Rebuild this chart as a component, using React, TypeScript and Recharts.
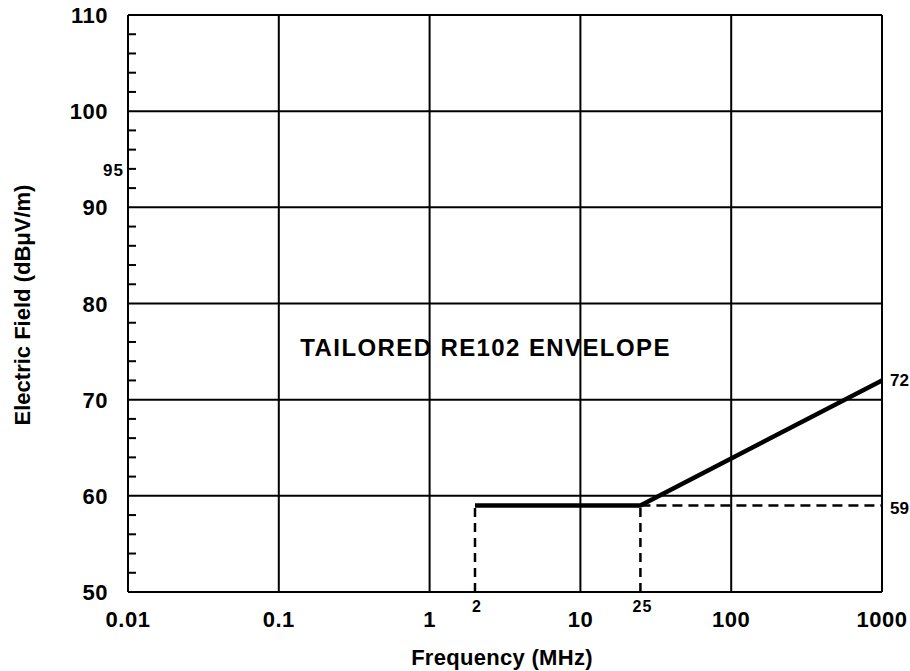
import React from 'react';
import { LineChart, Line, XAxis, YAxis, ReferenceLine, ReferenceDot } from 'recharts';

const FONT = '"Liberation Sans", Arial, Helvetica, sans-serif';

// axes
const freqDomain = [0.01, 1000];
const freqTicks = [0.01, 0.1, 1, 10, 100, 1000];
const breakFreqs = [2, 25];
const levelDomain = [50, 110];
const levelTicks = [50, 60, 70, 80, 90, 95, 100, 110];
const minorLevelTicks = [52, 54, 56, 58, 62, 64, 66, 68, 72, 74, 76, 78, 82, 84, 86, 88, 92, 94, 96, 98, 102, 104, 106, 108];
const gridFreqs = [0.1, 1, 10, 100, 1000];
const gridLevels = [60, 70, 80, 90, 100, 110];

// RE102 envelope
const envelopeFreq = [2, 25, 1000];
const envelopeLevel = [59, 59, 72];
const floorLevel = 59;
const endLabels = [72, 59];

const envelope = envelopeFreq.map((f, i) => ({ f, v: envelopeLevel[i] }));
const drops = breakFreqs.map((f) => [{ f, v: levelDomain[0] }, { f, v: floorLevel }]);
const floorExtension = [{ f: breakFreqs[1], v: floorLevel }, { f: freqDomain[1], v: floorLevel }];

const FreqTick = ({ x, y, payload }: any) => {
  const small = breakFreqs.includes(payload.value);
  return (
    <text x={x + (small ? 2 : 0)} y={y + (small ? 20 : 35)} textAnchor="middle" fontSize={small ? 16 : 22}
      fontWeight={700} fontFamily={FONT} fill="#000" letterSpacing={small ? 1 : 0.5}>
      {payload.value}
    </text>
  );
};

const LevelTick = ({ x, y, payload }: any) => {
  const v = payload.value;
  if (minorLevelTicks.includes(v)) {
    return <line x1={x} x2={x + 8} y1={y} y2={y} stroke="#000" strokeWidth={2} />;
  }
  if (v === 95) {
    return (
      <text x={x - 4} y={y + 17} textAnchor="end" fontSize={17} fontWeight={700} fontFamily={FONT} fill="#000"
        letterSpacing={1}>
        95
      </text>
    );
  }
  return (
    <text x={x - 20} y={y + 8} textAnchor="end" fontSize={22} fontWeight={700} fontFamily={FONT} fill="#000"
      letterSpacing={0.5}>
      {v}
    </text>
  );
};

export default function App() {
  return (
    <div style={{ position: 'absolute', left: 0, top: 0, background: '#fff' }}>
      <LineChart width={910} height={671} margin={{ top: 15, right: 28, left: 0, bottom: 0 }}>
        <XAxis dataKey="f" type="number" scale="log" domain={freqDomain} ticks={[...freqTicks, ...breakFreqs]}
          interval={0} allowDataOverflow height={79} tick={<FreqTick />} tickLine={false} tickSize={0} tickMargin={0}
          axisLine={{ stroke: '#000', strokeWidth: 2 }}
          label={() => (
            <text x={502} y={665} textAnchor="middle" fontSize={22} fontWeight={700} fontFamily={FONT} fill="#000"
              letterSpacing={0.3}>
              Frequency (MHz)
            </text>
          )} />
        <YAxis type="number" domain={levelDomain} ticks={[...levelTicks, ...minorLevelTicks]} interval={0} width={128}
          tick={<LevelTick />} tickLine={false} tickSize={0} tickMargin={0}
          axisLine={{ stroke: '#000', strokeWidth: 2 }}
          label={() => (
            <text x={30} y={305} transform="rotate(-90 30 305)" textAnchor="middle" fontSize={22} fontWeight={700}
              fontFamily={FONT} fill="#000">
              Electric Field (dBμV/m)
            </text>
          )} />

        {gridLevels.map((v) => (
          <ReferenceLine key={'h' + v} y={v} stroke="#000" strokeWidth={2} />
        ))}
        {gridFreqs.map((f) => (
          <ReferenceLine key={'v' + f} x={f} stroke="#000" strokeWidth={2} />
        ))}

        {drops.map((seg, i) => (
          <Line key={'d' + i} data={seg} dataKey="v" stroke="#000" strokeWidth={2.5} strokeDasharray="9 6"
            dot={false} isAnimationActive={false} />
        ))}
        <Line data={floorExtension} dataKey="v" stroke="#000" strokeWidth={2.5} strokeDasharray="10 6"
          dot={false} isAnimationActive={false} />
        <Line data={envelope} dataKey="v" stroke="#000" strokeWidth={4.5} dot={false} isAnimationActive={false} />

        {endLabels.map((v, i) => (
          <ReferenceDot key={'l' + v} x={freqDomain[1]} y={v} r={0} stroke="none"
            label={{ value: String(v), position: 'right', offset: 8, dy: i === 0 ? 0 : 3, fontSize: 17,
              fontWeight: 700, fontFamily: FONT, fill: '#000' }} />
        ))}
        <ReferenceDot x={2.35} y={75.4} r={0} stroke="none"
          label={{ value: 'TAILORED RE102 ENVELOPE', position: 'center', fontSize: 24, fontWeight: 700,
            fontFamily: FONT, fill: '#000', letterSpacing: 1.4 }} />
      </LineChart>
    </div>
  );
}
